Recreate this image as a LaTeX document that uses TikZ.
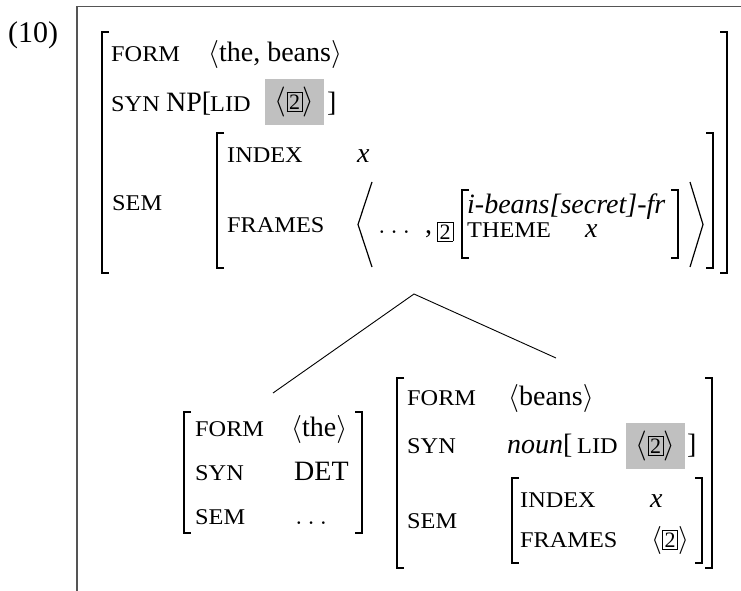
\RequirePackage{fix-cm}
\documentclass[tikz,border=0pt]{standalone}
\usepackage{fontspec}
\setmainfont{Liberation Serif}[ItalicFont={Liberation Serif Italic},BoldFont={Liberation Serif Bold}]
\newfontfamily\itfont{Liberation Serif Italic}
\newfontfamily\lblfont[FakeStretch=1.08]{Liberation Serif}
\definecolor{graybox}{RGB}{192,192,192}
\definecolor{framegray}{RGB}{85,85,85}
\newcommand\lbl[1]{{\fontsize{22.5}{24}\lblfont #1}}
\newcommand\itx[1]{{\itfont #1}}
\newcommand\bxtwo{{\setlength\fboxsep{1.8pt}\setlength\fboxrule{0.7pt}\fbox{\fontsize{22}{22}\selectfont 2}}}
\newcommand\la{$\langle$}
\newcommand\ra{$\rangle$}
\newcommand\lbr[3]{\draw[brk] (#1+7,#2) -- (#1,#2) -- (#1,#3) -- (#1+7,#3);}
\newcommand\rbr[3]{\draw[brk] (#1-7,#2) -- (#1,#2) -- (#1,#3) -- (#1-7,#3);}
\begin{document}
\begin{tikzpicture}[x=1pt,y=-1pt,
  txt/.style={inner sep=0pt, anchor=base west, font=\fontsize{28}{30}\selectfont},
  brk/.style={line width=1.8pt},
  ang/.style={line width=1.2pt},
  tree/.style={line width=0.9pt},
  hl/.style={fill=graybox, inner sep=0pt, minimum width=59pt, minimum height=46pt, font=\fontsize{30}{32}\selectfont}]
\useasboundingbox (0,0) rectangle (741,591);
% frame
\draw[framegray, line width=1.2pt] (77,591) -- (77,6.5) -- (741,6.5);
\node[txt, font=\fontsize{30}{32}\selectfont] (num) at (8,43) {(10)};

% ---------- top AVM ----------
\lbr{102}{32}{273}
\rbr{727}{32}{273}
\node[txt] (form1) at (111,62) {\lbl{FORM}};
\node[txt] (formv1) at (208,62) {\la the, beans\ra};
\node[txt] (syn1) at (111,112) {\lbl{SYN}};
\node[txt] (np1) at (166,112) {NP[};
\node[txt] (lid1) at (210,112) {\lbl{LID}};
\node[hl] (hl1) at (294.5,102) {\la\bxtwo\ra};
\node[txt] (rb1) at (327,112) {]};
\node[txt] (sem1) at (112,210) {\lbl{SEM}};
\lbr{217}{133}{268}
\rbr{713}{133}{268}
\node[txt] (idx1) at (227,162) {\lbl{INDEX}};
\node[txt] (x1) at (357,162) {\itx{x}};
\node[txt] (fr1) at (227,232) {\lbl{FRAMES}};
\draw[ang] (372,182) -- (358,224.5) -- (372,267);
\draw[ang] (690,182) -- (703,224.5) -- (690,267);
\node[txt] (dots1) at (378,233) {$\ldots$};
\node[txt] (comma1) at (425,233) {,};
\node[txt] (bx1) at (437,239) {\bxtwo};
\lbr{462}{190}{258}
\rbr{678}{190}{258}
\node[txt] (ib) at (467,213) {\itx{i-beans[secret]-fr}};
\node[txt] (th) at (467,237) {\lbl{THEME}};
\node[txt] (x2) at (585,237) {\itx{x}};

% ---------- tree ----------
\coordinate (apex) at (414,294);
\coordinate (lend) at (273,393);
\coordinate (rend) at (556,358);
\draw[tree] (lend) -- (apex) -- (rend);

% ---------- bottom-left AVM ----------
\lbr{184}{412}{533}
\rbr{362}{412}{533}
\node[txt] (form2) at (195,436) {\lbl{FORM}};
\node[txt] (formv2) at (291,436) {\la the\ra};
\node[txt] (syn2) at (195,480) {\lbl{SYN}};
\node[txt] (det2) at (294,480) {DET};
\node[txt] (sem2) at (195,524) {\lbl{SEM}};
\node[txt] (dots2) at (295,524) {$\ldots$};

% ---------- bottom-right AVM ----------
\lbr{397}{378}{568}
\rbr{712}{378}{568}
\node[txt] (form3) at (407,405) {\lbl{FORM}};
\node[txt] (formv3) at (508,405) {\la beans\ra};
\node[txt] (syn3) at (407,453) {\lbl{SYN}};
\node[txt] (noun3) at (507,453) {\itx{noun}[};
\node[txt] (lid3) at (577,453) {\lbl{LID}};
\node[hl] (hl3) at (655.5,446) {\la\bxtwo\ra};
\node[txt] (rb3) at (687,453) {]};
\node[txt] (sem3) at (407,528) {\lbl{SEM}};
\lbr{512}{478}{563}
\rbr{702}{478}{563}
\node[txt] (idx3) at (520,507) {\lbl{INDEX}};
\node[txt] (x3) at (650,507) {\itx{x}};
\node[txt] (fr3) at (520,547) {\lbl{FRAMES}};
\node[txt] (fv3) at (651,547) {\la\bxtwo\ra};
\end{tikzpicture}
\end{document}
